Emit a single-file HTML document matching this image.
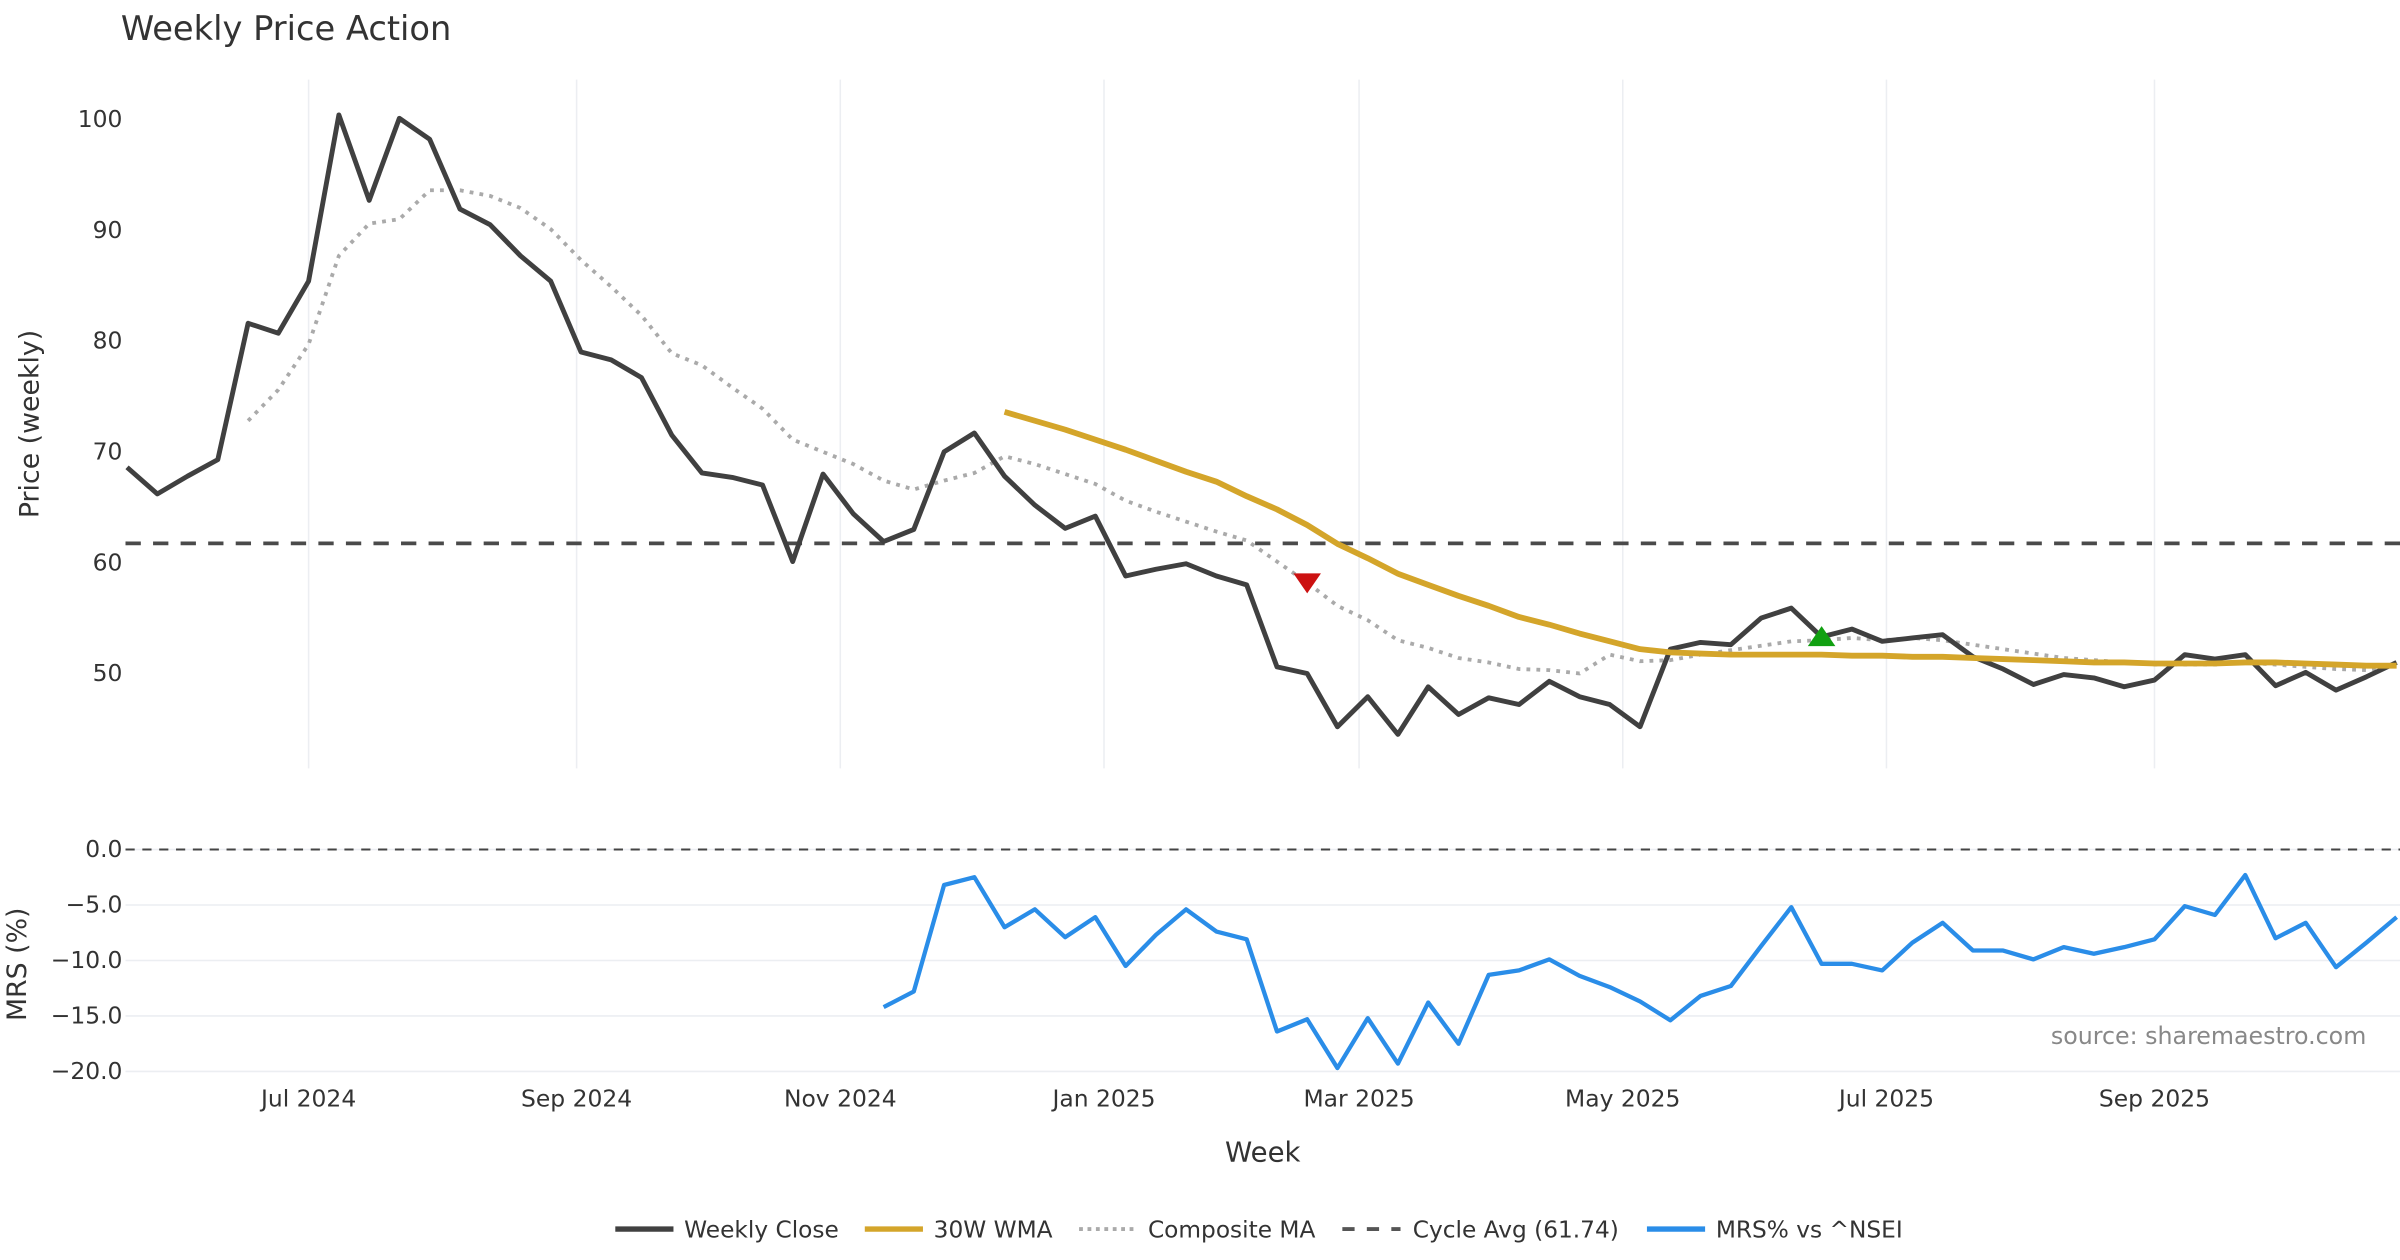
<!DOCTYPE html>
<html><head><meta charset="utf-8"><style>
html,body{margin:0;padding:0;background:#fff;}
svg{display:block;font-family:"DejaVu Sans","Liberation Sans",sans-serif;}
</style></head><body>
<svg id="chart" width="2400" height="1260" viewBox="0 0 1568 823.2" xmlns="http://www.w3.org/2000/svg">
<text x="79" y="26" font-size="22" fill="#333">Weekly Price Action</text>
<g id="grid"></g><g id="marks"></g><g id="axes"></g>
<text transform="translate(25,277) rotate(-90)" text-anchor="middle" font-size="17.5" fill="#333">Price (weekly)</text>
<text transform="translate(17,630) rotate(-90)" text-anchor="middle" font-size="17.5" fill="#333">MRS (%)</text>
<text x="825" y="759" text-anchor="middle" font-size="18" fill="#333">Week</text>
<text x="1546" y="682" text-anchor="end" font-size="15.5" fill="#888">source: sharemaestro.com</text>
<g font-size="15.2" fill="#333">
<line x1="402" y1="803" x2="440" y2="803" stroke="#404040" stroke-width="3.5"/><text x="447" y="808.5">Weekly Close</text>
<line x1="565" y1="803" x2="603" y2="803" stroke="#d4a52a" stroke-width="3.5"/><text x="610" y="808.5">30W WMA</text>
<line x1="705" y1="803" x2="743" y2="803" stroke="#aaa" stroke-width="2.5" stroke-dasharray="2.5,3"/><text x="750" y="808.5">Composite MA</text>
<line x1="877" y1="803" x2="915" y2="803" stroke="#555" stroke-width="2.5" stroke-dasharray="8,8"/><text x="923" y="808.5">Cycle Avg (61.74)</text>
<line x1="1076" y1="803" x2="1114" y2="803" stroke="#2a8de8" stroke-width="3.5"/><text x="1121" y="808.5">MRS% vs ^NSEI</text>
</g>
</svg>
<script>
const closeVals=[68.6,66.2,67.8,69.3,81.6,80.7,85.4,100.4,92.7,100.1,98.2,91.9,90.5,87.7,85.4,79.0,78.3,76.7,71.5,68.1,67.7,67.0,60.1,68.0,64.4,61.9,63.0,70.0,71.7,67.8,65.2,63.1,64.2,58.8,59.4,59.9,58.8,58.0,50.6,50.0,45.2,47.9,44.5,48.8,46.3,47.8,47.2,49.3,47.9,47.2,45.2,52.2,52.8,52.6,55.0,55.9,53.3,54.0,52.9,53.2,53.5,51.5,50.4,49.0,49.9,49.6,48.8,49.4,51.7,51.3,51.7,48.9,50.1,48.5,49.7,51.0];
const compStart=4;
const compVals=[72.8,75.6,79.7,87.7,90.6,91.0,93.6,93.6,93.1,92.0,90.1,87.3,84.9,82.3,78.9,77.8,75.8,73.9,71.1,70.0,68.9,67.4,66.6,67.4,68.1,69.6,68.9,68.0,67.1,65.6,64.6,63.7,62.8,62.0,60.1,58.2,56.1,54.8,53.0,52.3,51.4,51.0,50.4,50.3,50.0,51.7,51.1,51.2,51.7,52.1,52.5,52.9,53.0,53.2,53.0,53.2,53.0,52.6,52.2,51.8,51.4,51.2,51.0,50.8,50.8,50.8,51.0,50.8,50.6,50.4,50.3,50.7];
const wmaStart=29;
const wmaVals=[73.6,72.8,72.0,71.1,70.2,69.2,68.2,67.3,66.0,64.8,63.4,61.7,60.4,59.0,58.0,57.0,56.1,55.1,54.4,53.6,52.9,52.2,51.9,51.8,51.7,51.7,51.7,51.7,51.6,51.6,51.5,51.5,51.4,51.3,51.2,51.1,51.0,51.0,50.9,50.9,50.9,51.0,51.0,50.9,50.8,50.7,50.7];
const mrsStart=25;
const mrsVals=[-14.2,-12.8,-3.2,-2.5,-7.0,-5.4,-7.9,-6.1,-10.5,-7.7,-5.4,-7.4,-8.1,-16.4,-15.3,-19.7,-15.2,-19.3,-13.8,-17.5,-11.3,-10.9,-9.9,-11.4,-12.4,-13.7,-15.4,-13.2,-12.3,-8.7,-5.2,-10.3,-10.3,-10.9,-8.4,-6.6,-9.1,-9.1,-9.9,-8.8,-9.4,-8.8,-8.1,-5.1,-5.9,-2.3,-8.0,-6.6,-10.6,-8.4,-6.1];
const cycleAvg=61.74;
const sellSignal=[39,58.2];
const buySignal=[56,53.3];
const priceTicks=[50,60,70,80,90,100];
const mrsTicks=[0,-5,-10,-15,-20];
const monthLabels=["Jul 2024","Sep 2024","Nov 2024","Jan 2025","Mar 2025","May 2025","Jul 2025","Sep 2025"];
const monthDates=["2024-07-01","2024-09-01","2024-11-01","2025-01-01","2025-03-01","2025-05-01","2025-07-01","2025-09-01"];
const firstWeek="2024-05-20";

const NS="http://www.w3.org/2000/svg";
const X0=83,DX=19.77;
const xs=i=>X0+i*DX;
const yP=v=>78+(100-v)*7.24;
const yM=v=>555-v*7.25;
const dateIdx=d=>(new Date(d)-new Date(firstWeek))/86400000/7;
function mk(tag,attrs,parent){const e=document.createElementNS(NS,tag);for(const k in attrs)e.setAttribute(k,attrs[k]);document.getElementById(parent).appendChild(e);return e;}
function poly(vals,start,yf,stroke,w,dash,name){
  const pts=vals.map((v,k)=>xs(start+k).toFixed(1)+","+yf(v).toFixed(1)).join(" ");
  const p=mk("polyline",{points:pts,fill:"none",stroke:stroke,"stroke-width":w,"stroke-linejoin":"round"},"marks");
  if(dash)p.setAttribute("stroke-dasharray",dash);
  
  
}
monthDates.forEach((d,k)=>{
  const x=xs(dateIdx(d));
  const g=mk("line",{x1:x,x2:x,y1:52,y2:502,stroke:"#eceef2","stroke-width":1},"grid");
  
  
  const t=mk("text",{x:x,y:723,"text-anchor":"middle","font-size":15.3,fill:"#333"},"axes");
  t.textContent=monthLabels[k];
  
  
});
priceTicks.forEach(v=>{
  const t=mk("text",{x:80,y:yP(v)+5,"text-anchor":"end","font-size":15.3,fill:"#333"},"axes");
  t.textContent=v;
  
  
});
mrsTicks.forEach(v=>{
  const g=mk("line",{x1:82,x2:1568,y1:yM(v),y2:yM(v),stroke:"#eceef2","stroke-width":1},"grid");
  
  
  const t=mk("text",{x:80,y:yM(v)+5,"text-anchor":"end","font-size":15.3,fill:"#333"},"axes");
  t.textContent=(v===0?"0.0":"\u2212"+Math.abs(v).toFixed(1));
  
  
});
const z=mk("line",{x1:82,x2:1568,y1:yM(0),y2:yM(0),stroke:"#444","stroke-width":1.3,"stroke-dasharray":"6,5"},"marks");


const c=mk("line",{x1:82,x2:1568,y1:yP(cycleAvg),y2:yP(cycleAvg),stroke:"#4a4a4a","stroke-width":2.5,"stroke-dasharray":"10,8"},"marks");


poly(compVals,compStart,yP,"#aaaaaa",2.5,"2.5,4","composite-ma-line");
poly(closeVals,0,yP,"#404040",3.2,null,"weekly-close-line");
poly(wmaVals,wmaStart,yP,"#d4a52a",3.8,null,"wma-30w-line");
poly(mrsVals,mrsStart,yM,"#2a8de8",2.8,null,"mrs-line");
{const x=xs(sellSignal[0]),y=yP(sellSignal[1]);
const m=mk("polygon",{points:`${x-9},${y-6} ${x+9},${y-6} ${x},${y+7}`,fill:"#cc1111"},"marks");

}
{const x=xs(buySignal[0]),y=yP(buySignal[1]);
const m=mk("polygon",{points:`${x-9},${y+6} ${x+9},${y+6} ${x},${y-7}`,fill:"#11a011"},"marks");

}
</script>
</body></html>
